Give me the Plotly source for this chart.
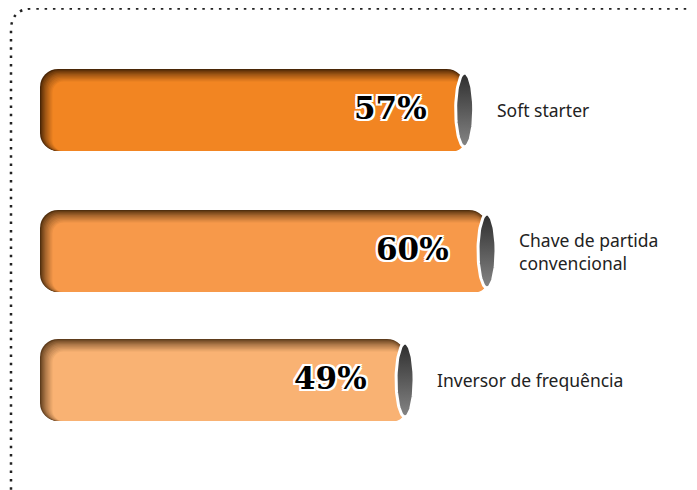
import numpy as np
import plotly.graph_objects as go

labels = ["Soft starter", "Chave de partida<br>convencional", "Inversor de frequência"]
values = [57, 60, 49]
value_text = ["57%", "60%", "49%"]
fill_colors = ["#F28522", "#F7994A", "#F9B273"]
shade_colors = ["#4A2606", "#52300F", "#5E3C1C"]

W, H = 697, 490
OFF = 8            # the page puts the figure 8px in from the corner
PX = 7.45          # pixels per percent point
LEFT = 40 - OFF    # pixel where 0% sits
ROWS = [110 - OFF, 251 - OFF, 380 - OFF]
BAR_H = 82
R_LEFT = 18


def mix(c1, c2, f):
    a = [int(c1[i:i + 2], 16) for i in (1, 3, 5)]
    b = [int(c2[i:i + 2], 16) for i in (1, 3, 5)]
    return "rgb(%d,%d,%d)" % tuple(round(a[j] + (b[j] - a[j]) * f) for j in range(3))


fig = go.Figure()

# bar body: layered bars give the dark inner shadow on the top and left edges
n_layers, step = 10, 1.25
for k in range(n_layers + 1):
    t = k * step
    f = (k / n_layers) ** 0.75
    cols = [mix(s, c, f) for s, c in zip(shade_colors, fill_colors)]
    fig.add_trace(go.Bar(
        orientation="h", y=ROWS, base=values,
        x=[-(v - t / PX) for v in values],
        width=BAR_H - t, offset=-BAR_H / 2 + t,
        marker=dict(color=cols, line=dict(width=0), cornerradius=max(R_LEFT - t * 0.5, 6)),
        hoverinfo="skip"))

# grey end caps
theta = np.linspace(0, 2 * np.pi, 80)
for v, c in zip(values, ROWS):
    rx, ry = 9 / PX, 37
    fig.add_trace(go.Scatter(
        x=v + rx * np.cos(theta), y=c + ry * np.sin(theta), mode="lines",
        fill="toself", line=dict(color="white", width=3),
        fillgradient=dict(type="vertical", start=c - ry, stop=c + ry,
                          colorscale=[[0, "#2E2E2E"], [1, "#858585"]]),
        hoverinfo="skip"))

outline = ", ".join("%dpx %dpx 0 #fff" % (dx, dy) for dx in (-2, 0, 2) for dy in (-2, 0, 2) if dx or dy)
for v, c, txt, lab in zip(values, ROWS, value_text, labels):
    fig.add_annotation(x=v, y=c, text=txt, showarrow=False, xanchor="right", xshift=-36, yshift=2,
                       font=dict(family="DejaVu Serif", size=31, color="black", weight="bold",
                                 shadow=outline))
    fig.add_annotation(x=v, y=c, text=lab, showarrow=False, xanchor="left", align="left", xshift=30,
                       font=dict(family="Noto Sans", size=17.5, color="#222222"))

# dotted frame (top and left with a rounded corner)
fx, fy, rc = 11 - OFF, 8 - OFF + 0.5, 22
fig.add_shape(type="path", xref="paper", yref="paper",
              path="M %f 0 L %f %f Q %f %f %f %f L 1 %f" % (
                  fx / W, fx / W, 1 - (fy + rc) / H, fx / W, 1 - fy / H, (fx + rc) / W, 1 - fy / H,
                  1 - fy / H),
              line=dict(color="#222222", width=2.5, dash="2.5px,5.8px"))

fig.update_layout(
    width=W, height=H, margin=dict(l=0, r=0, t=0, b=0),
    paper_bgcolor="white", plot_bgcolor="white", showlegend=False, barmode="overlay",
    xaxis=dict(range=[-LEFT / PX, (W - LEFT) / PX], visible=False, fixedrange=True),
    yaxis=dict(range=[H, 0], visible=False, fixedrange=True),
)

fig.write_html("out.html")
